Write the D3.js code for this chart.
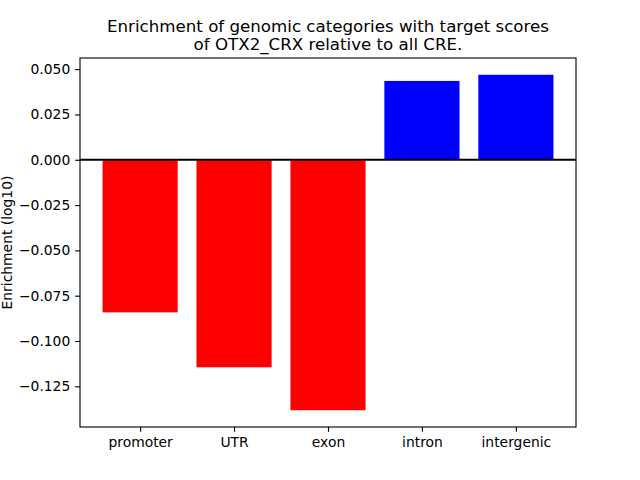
<!DOCTYPE html>
<html>
<head>
<meta charset="utf-8">
<script src="https://cdn.jsdelivr.net/npm/d3@7"></script>
<style>
  body { margin: 0; background: #fff; }
  text { font-family: "DejaVu Sans", sans-serif; }
</style>
</head>
<body>
<svg id="chart" width="640" height="480"></svg>
<script>
// categories and enrichment values (log10)
var categories = ["promoter", "UTR", "exon", "intron", "intergenic"];
var enrichment = [-0.0842, -0.1145, -0.1382, 0.0435, 0.0469];
var yTicks = [0.050, 0.025, 0.000, -0.025, -0.050, -0.075, -0.100, -0.125];
var titleLines = ["Enrichment of genomic categories with target scores", "of OTX2_CRX relative to all CRE."];

var margin = {top: 58, left: 80, right: 64, bottom: 53};
var width = 640, height = 480;
var pt = 100 / 72; // matplotlib points -> px at 100 dpi

var svg = d3.select("#chart");

// matplotlib-like limits: bars +-0.4, 5% padding
var barW = 0.8;
var xmin = -barW / 2, xmax = categories.length - 1 + barW / 2;
var xpad = (xmax - xmin) * 0.05;
var x = d3.scaleLinear()
    .domain([xmin - xpad, xmax + xpad])
    .range([margin.left, width - margin.right]);

var ylo = Math.min(0, d3.min(enrichment)), yhi = Math.max(0, d3.max(enrichment));
var ypad = (yhi - ylo) * 0.05;
var y = d3.scaleLinear()
    .domain([ylo - ypad, yhi + ypad])
    .range([height - margin.bottom, margin.top]);

var g = svg.append("g");

g.selectAll("rect.bar")
    .data(enrichment)
    .enter().append("rect")
    .attr("class", "bar")
    .attr("x", function(d, i) { return x(i - barW / 2); })
    .attr("width", function(d, i) { return x(i + barW / 2) - x(i - barW / 2); })
    .attr("y", function(d) { return y(Math.max(0, d)); })
    .attr("height", function(d) { return Math.abs(y(d) - y(0)); })
    .attr("fill", function(d) { return d < 0 ? "#ff0000" : "#0000ff"; });

// zero line
g.append("line")
    .attr("x1", margin.left).attr("x2", width - margin.right)
    .attr("y1", y(0)).attr("y2", y(0))
    .attr("stroke", "#000").attr("stroke-width", 2);

function styleAxis(a) {
    a.select(".domain").remove();
    a.selectAll("text").attr("font-size", 10 * pt).attr("font-family", "DejaVu Sans").attr("fill", "#000");
    a.selectAll("line").attr("stroke", "#000").attr("stroke-width", 0.8 * pt);
}

// axes
var yAxis = d3.axisLeft(y)
    .tickValues(yTicks)
    .tickSize(3.5 * pt)
    .tickPadding(3.5 * pt)
    .tickFormat(function(d) { return d3.format(".3f")(d).replace("-", "\u2212"); });
svg.append("g")
    .attr("transform", "translate(" + margin.left + ",0)")
    .call(yAxis)
    .call(styleAxis);

var xAxis = d3.axisBottom(x)
    .tickValues(d3.range(categories.length))
    .tickSize(3.5 * pt)
    .tickPadding(3.5 * pt)
    .tickFormat(function(d) { return categories[d]; });
svg.append("g")
    .attr("transform", "translate(0," + (height - margin.bottom) + ")")
    .call(xAxis)
    .call(styleAxis);

// frame
svg.append("rect")
    .attr("x", margin.left).attr("y", margin.top)
    .attr("width", width - margin.left - margin.right)
    .attr("height", height - margin.top - margin.bottom)
    .attr("fill", "none").attr("stroke", "#000").attr("stroke-width", 0.8 * pt);

// title
svg.append("text")
    .attr("text-anchor", "middle")
    .attr("font-size", 12 * pt)
    .selectAll("tspan")
    .data(titleLines)
    .enter().append("tspan")
    .attr("x", (margin.left + width - margin.right) / 2)
    .attr("y", function(d, i) { return 32 + i * 17.5; })
    .text(function(d) { return d; });

// y label
svg.append("text")
    .attr("transform", "translate(12," + ((margin.top + height - margin.bottom) / 2) + ") rotate(-90)")
    .attr("text-anchor", "middle")
    .attr("font-size", 10 * pt)
    .text("Enrichment (log10)");
</script>
</body>
</html>
